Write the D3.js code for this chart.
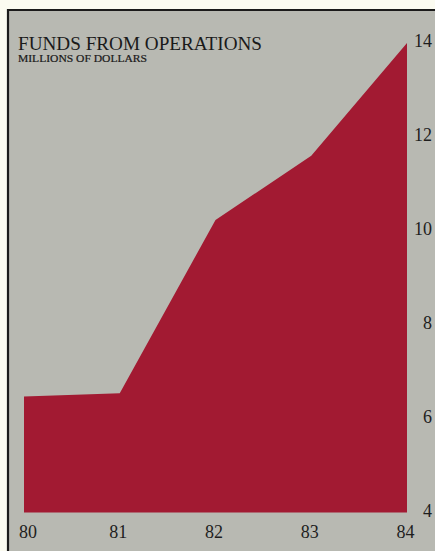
<!DOCTYPE html>
<html>
<head>
<meta charset="utf-8">
<script src="https://cdn.jsdelivr.net/npm/d3@7"></script>
<style>
  html, body { margin: 0; padding: 0; background: #fbfbf1; }
  svg { display: block; }
</style>
</head>
<body>
<svg id="chart" width="435" height="551"></svg>
<script>
// Funds from operations, millions of dollars, fiscal 1980–1984
const years = ["80", "81", "82", "83", "84"];
const funds = [6.47, 6.54, 10.23, 11.6, 14.0];
const yTicks = [4, 6, 8, 10, 12, 14];

const W = 435, H = 551;
const svg = d3.select("#chart");

// grey panel with a black rule on its top and left edges
svg.append("rect")
  .attr("x", 8).attr("y", 10)
  .attr("width", W - 8).attr("height", H - 10)
  .attr("fill", "#b8b9b2");
svg.append("path")
  .attr("d", `M8,${H} L8,10 L${W},10`)
  .attr("fill", "none")
  .attr("stroke", "#1b1b1b")
  .attr("stroke-width", 2.2);

const x = d3.scalePoint().domain(years).range([24, 407]);
const y = d3.scaleLinear().domain([4, 14]).range([512.5, 43]);

// filled area
const area = d3.area()
  .x((d, i) => x(years[i]))
  .y0(y(4))
  .y1(d => y(d));

svg.append("path")
  .datum(funds)
  .attr("d", area)
  .attr("fill", "#a21a32");

const serif = "'Liberation Serif', 'DejaVu Serif', serif";

// value axis on the right
const yAxis = svg.append("g")
  .attr("transform", "translate(432,-2)")
  .call(d3.axisRight(y).tickValues(yTicks).tickSize(0).tickPadding(0));
yAxis.select(".domain").remove();
yAxis.selectAll("text")
  .attr("text-anchor", "end")
  .attr("x", 0)
  .attr("font-family", serif)
  .attr("font-size", 18)
  .attr("fill", "#1e1e1e");

// year axis along the bottom
const xAxis = svg.append("g")
  .attr("transform", "translate(-2,525)")
  .call(d3.axisBottom(x).tickSize(0).tickPadding(0));
xAxis.select(".domain").remove();
xAxis.selectAll("text")
  .attr("font-family", serif)
  .attr("font-size", 18)
  .attr("fill", "#1e1e1e");
xAxis.selectAll(".tick").filter(d => d === "80")
  .attr("transform", `translate(${x("80") + 6},0)`);

// titles
svg.append("text")
  .attr("x", 18).attr("y", 49.5)
  .attr("font-family", serif)
  .attr("font-size", 18.5)
  .attr("fill", "#1a1a1a")
  .attr("textLength", 244)
  .attr("lengthAdjust", "spacingAndGlyphs")
  .text("FUNDS FROM OPERATIONS");

svg.append("text")
  .attr("x", 18).attr("y", 62)
  .attr("font-family", serif)
  .attr("font-size", 9.5)
  .attr("fill", "#1a1a1a")
  .attr("stroke", "#1a1a1a")
  .attr("stroke-width", 0.2)
  .attr("textLength", 129)
  .attr("lengthAdjust", "spacingAndGlyphs")
  .text("MILLIONS OF DOLLARS");
</script>
</body>
</html>
